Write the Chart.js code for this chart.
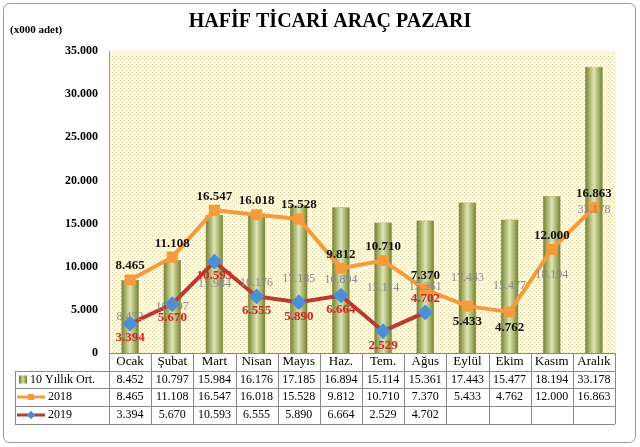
<!DOCTYPE html>
<html><head><meta charset="utf-8">
<script src="https://cdn.jsdelivr.net/npm/chart.js@4"></script>
<style>html,body{margin:0;padding:0;background:#fff}#w{width:640px;height:447px}</style>
</head><body><div id="w"><canvas id="c"></canvas></div>
<script>
const months=['Ocak','Şubat','Mart','Nisan','Mayıs','Haz.','Tem.','Ağus','Eylül','Ekim','Kasım','Aralık'];
const avg10=[8452,10797,15984,16176,17185,16894,15114,15361,17443,15477,18194,33178];
const y2018=[8465,11108,16547,16018,15528,9812,10710,7370,5433,4762,12000,16863];
const y2019=[3394,5670,10593,6555,5890,6664,2529,4702];
const seriesNames=['10 Yıllık Ort.','2018','2019'];
const fmt=v=>String(v).replace(/\B(?=(\d{3})+(?!\d))/g,'.');
const SERIF='"Liberation Serif","DejaVu Serif",serif';

const pc=document.createElement('canvas');pc.width=4;pc.height=4;
const px=pc.getContext('2d');px.fillStyle='#fcf9ec';px.fillRect(0,0,4,4);px.fillStyle='#e6d9a0';px.fillRect(0,0,1,1);px.fillRect(2,2,1,1);

const deco={id:'deco',
beforeDraw(ch){const c=ch.ctx,a=ch.chartArea;c.save();c.fillStyle='#fff';c.fillRect(0,0,ch.width,ch.height);
c.fillStyle=c.createPattern(pc,'repeat');c.fillRect(a.left,a.top,a.right-a.left,a.bottom-a.top);c.restore();},
afterDraw(ch){const c=ch.ctx,a=ch.chartArea,x=ch.scales.x,y=ch.scales.y;c.save();
c.strokeStyle='#999';c.lineWidth=1;c.beginPath();c.roundRect(3.5,3.5,632,439,6);c.stroke();
c.fillStyle='#000';c.textAlign='center';c.textBaseline='middle';
c.font='bold 20px '+SERIF;c.fillText('HAFİF TİCARİ ARAÇ PAZARI',330,22);
c.font='bold 11px '+SERIF;c.textAlign='left';c.fillText('(x000 adet)',10,30);
c.textAlign='center';
avg10.forEach((v,i)=>{c.font='12px '+SERIF;c.fillStyle='#8a8a8a';c.fillText(fmt(v),x.getPixelForValue(i),(y.getPixelForValue(0)+y.getPixelForValue(v))/2);});
y2018.forEach((v,i)=>{c.font='bold 13px '+SERIF;c.fillStyle='#111';const dy=(i===8||i===9)?16:-14;c.fillText(fmt(v),x.getPixelForValue(i),y.getPixelForValue(v)+dy);});
y2019.forEach((v,i)=>{c.font='bold 13px '+SERIF;c.fillStyle='#e02020';const dy=(i===7)?-14:14;c.fillText(fmt(v),x.getPixelForValue(i),y.getPixelForValue(v)+dy);});
const rows=[353,371,388,406,424],L=15,R=a.right,step=(a.right-a.left)/12;
c.strokeStyle='#888';c.lineWidth=1;
rows.forEach((r,k)=>{c.beginPath();c.moveTo(k===0?a.left:L,r+.5);c.lineTo(R,r+.5);c.stroke();});
c.beginPath();c.moveTo(L+.5,371);c.lineTo(L+.5,424);c.stroke();
for(let i=0;i<=12;i++){const xx=Math.round(a.left+i*step)+.5;c.beginPath();c.moveTo(xx,353);c.lineTo(xx,424);c.stroke();}
c.fillStyle='#000';c.font='13px '+SERIF;
months.forEach((m,i)=>c.fillText(m,x.getPixelForValue(i),362));
c.font='12px '+SERIF;
[avg10,y2018,y2019].forEach((arr,k)=>{const cy=(rows[k+1]+rows[k+2])/2;arr.forEach((v,i)=>c.fillText(fmt(v),x.getPixelForValue(i),cy));});
c.textAlign='left';
seriesNames.forEach((n,k)=>{const cy=(rows[k+1]+rows[k+2])/2;
 if(k===0){const g=c.createLinearGradient(19,0,27,0);g.addColorStop(0,'#6b7a2c');g.addColorStop(.5,'#d3dca0');g.addColorStop(1,'#6b7a2c');c.fillStyle=g;c.fillRect(19,cy-4,8,8);}
 else{c.strokeStyle=k===1?'#f79a3c':'#b83a30';c.lineWidth=3;c.beginPath();c.moveTo(17,cy);c.lineTo(45,cy);c.stroke();
 c.fillStyle=k===1?'#f79a3c':'#4a8fd8';c.save();c.translate(31,cy);if(k===2)c.rotate(Math.PI/4);c.fillRect(-3,-3,6,6);c.restore();}
 c.fillStyle='#000';c.fillText(n,k===0?30:48,cy);});
c.restore();}};

new Chart(document.getElementById('c'),{
data:{labels:months,datasets:[
{type:'line',label:'2019',data:y2019,borderColor:'#b83a30',borderWidth:4,pointStyle:'rectRot',pointRadius:5,pointBackgroundColor:'#4a8fd8',pointBorderColor:'#4a8fd8',order:1},
{type:'line',label:'2018',data:y2018,borderColor:'#f79a3c',borderWidth:4,pointStyle:'rect',pointRadius:5,pointBackgroundColor:'#f79a3c',pointBorderColor:'#f79a3c',order:2},
{type:'bar',label:'10 Yıllık Ort.',data:avg10,order:3,barPercentage:0.42,categoryPercentage:1,
 backgroundColor:(ctx)=>{const ch=ctx.chart,x=ch.scales&&ch.scales.x;if(!x||!ch.chartArea)return '#9aae5a';const cx=x.getPixelForValue(ctx.dataIndex),w=9;
 const g=ch.ctx.createLinearGradient(cx-w,0,cx+w,0);g.addColorStop(0,'#6d7d2a');g.addColorStop(.5,'#dfe6b4');g.addColorStop(1,'#6d7d2a');return g;},
 borderColor:'#6b7a2c',borderWidth:0.5}
]},
options:{responsive:true,maintainAspectRatio:false,animation:false,devicePixelRatio:1,
layout:{padding:{top:51,bottom:94,left:62,right:25}},
plugins:{legend:{display:false},tooltip:{enabled:false}},
scales:{x:{display:false,offset:true},
y:{min:0,max:35000,border:{color:'#999'},grid:{display:false},
ticks:{stepSize:5000,color:'#000',font:{family:SERIF,size:12,weight:'bold'},callback:v=>fmt(v)}}}},
plugins:[deco]});
</script></body></html>
